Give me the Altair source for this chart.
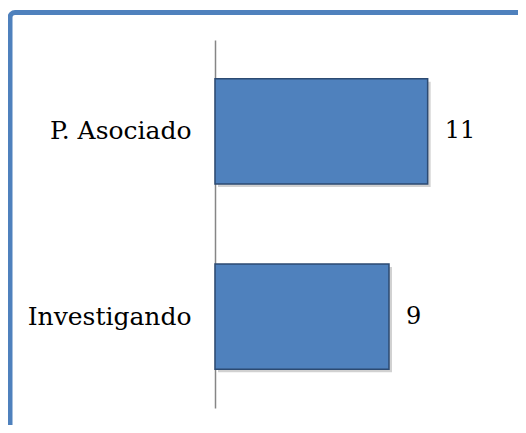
import altair as alt
import pandas as pd

categories = ["P. Asociado", "Investigando"]
values = [11, 9]

df = pd.DataFrame({"cat": categories, "val": values})

W, H = 232, 368
PAD = {"left": 207, "top": 32, "right": 71, "bottom": 17}

y_enc = alt.Y("cat:N", sort=categories,
              scale=alt.Scale(paddingInner=0.432, paddingOuter=0.21),
              axis=alt.Axis(title=None, ticks=False, grid=False,
                            domainColor="#868686", domainWidth=1.5,
                            labelFont="DejaVu Serif", labelFontSize=25,
                            labelColor="#000000", labelPadding=24,
                            labelAngle=0, labelLimit=300))
x_enc = alt.X("val:Q", scale=alt.Scale(domain=[0, 12], nice=False),
              axis=None)

shadow = alt.Chart(df).mark_bar(color="#000000", opacity=0.18,
                                xOffset=3, yOffset=3).encode(x=x_enc, y=y_enc)
bars = alt.Chart(df).mark_bar(color="#4f81bd", stroke="#2c4a72",
                              strokeWidth=1.5).encode(x=x_enc, y=y_enc)
text = alt.Chart(df).mark_text(align="left", baseline="middle", dx=17,
                               font="DejaVu Serif", fontSize=24,
                               color="#000000").encode(
    x=x_enc, y=y_enc, text="val:Q")

frame_df = pd.DataFrame({"k": [0]})
frame = alt.Chart(frame_df).mark_rect(
    fill=None, fillOpacity=0, stroke="#4f81bd", strokeWidth=5,
    cornerRadius=5).encode(
    x=alt.value(-205), x2=alt.value(600),
    y=alt.value(-27.5), y2=alt.value(600))

chart = alt.layer(frame, shadow, bars, text).properties(
    width=W, height=H, padding=PAD, background="#ffffff",
    autosize=alt.AutoSizeParams(type="none"),
).configure_view(strokeWidth=0)

chart.save("out.html", embed_options={"renderer": "svg", "actions": False})
